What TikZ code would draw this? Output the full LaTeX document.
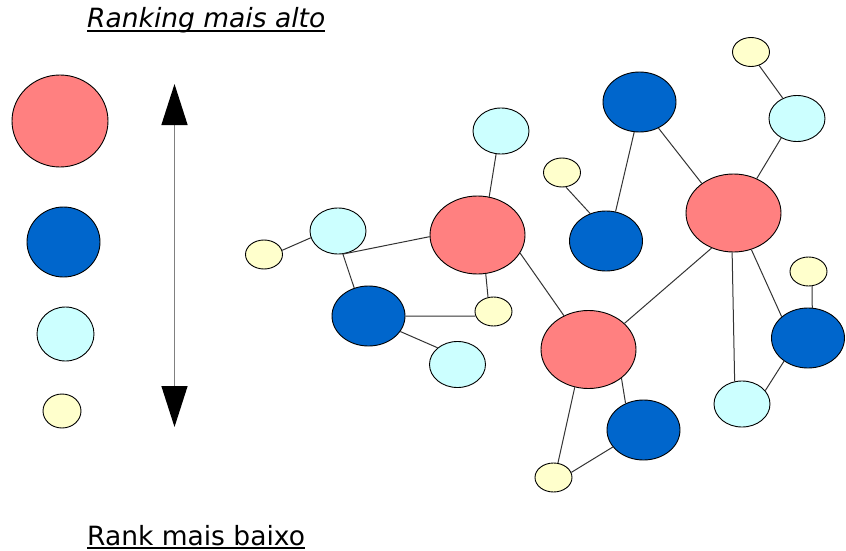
\documentclass[tikz,border=0pt]{standalone}
\usepackage{fontspec}
\setmainfont{DejaVu Sans}
\usetikzlibrary{shapes.geometric,arrows.meta}

\definecolor{rankred}{HTML}{FF8080}
\definecolor{rankblue}{HTML}{0066CC}
\definecolor{rankcyan}{HTML}{CCFFFF}
\definecolor{rankyellow}{HTML}{FFFFCC}
\definecolor{edgegray}{HTML}{333333}

\tikzset{
  vertex/.style={ellipse, draw=black, line width=0.9pt, inner sep=0pt},
  bigred/.style={vertex, fill=rankred, minimum width=95pt, minimum height=78pt},
  midblue/.style={vertex, fill=rankblue, minimum width=73pt, minimum height=60pt},
  smallcyan/.style={vertex, fill=rankcyan, minimum width=56pt, minimum height=46pt},
  tinyyellow/.style={vertex, fill=rankyellow, minimum width=37pt, minimum height=29pt},
  link/.style={draw=edgegray, line width=1pt},
  caption/.style={inner sep=0pt, anchor=base west, font=\fontsize{26.5}{30}\selectfont},
  uline/.style={draw=black, line width=1.6pt}
}

\begin{document}
\begin{tikzpicture}[x=1pt, y=-1pt]
\useasboundingbox (0,0) rectangle (846,551);

% legend: one circle per rank level
\node[vertex, fill=rankred,    minimum width=96pt, minimum height=92pt] (legred)    at (60,121) {};
\node[vertex, fill=rankblue,   minimum width=73pt, minimum height=70pt] (legblue)   at (63.5,242) {};
\node[vertex, fill=rankcyan,   minimum width=57pt, minimum height=54pt] (legcyan)   at (65.5,334) {};
\node[vertex, fill=rankyellow, minimum width=38pt, minimum height=34pt] (legyellow) at (62,411) {};

% rank scale arrow
\coordinate (scaletop) at (174.5,84);
\coordinate (scalebot) at (174.5,427);
\draw[draw=gray, line width=1.4pt,
      {Triangle[width=26pt,length=41pt,color=black]}-{Triangle[width=26pt,length=41pt,color=black]}]
  (scaletop) -- (scalebot);

% captions
\node[caption] (hightxt) at (87,28) {\itshape Ranking mais alto};
\draw[uline] ([yshift=-3.2pt]hightxt.base west) -- ([yshift=-3.2pt]hightxt.base east);
\node[caption] (lowtxt) at (87,545) {Rank mais baixo};
\draw[uline] ([yshift=-3.2pt]lowtxt.base west) -- ([yshift=-3.2pt]lowtxt.base east);

% network nodes
\node[tinyyellow] (yL)   at (264,254.5) {};
\node[smallcyan]  (cL)   at (338,231) {};
\node[midblue]    (bL)   at (368.5,316) {};
\node[tinyyellow] (yM)   at (493.5,311.5) {};
\node[smallcyan]  (cLL)  at (457.5,364.5) {};
\node[bigred]     (rL)   at (477.5,235) {};
\node[smallcyan]  (cTM)  at (501,131) {};
\node[tinyyellow] (yS)   at (562,172.5) {};
\node[midblue]    (bM)   at (606,241) {};
\node[midblue]    (bT)   at (639.5,102) {};
\node[bigred]     (rR)   at (733.5,213) {};
\node[tinyyellow] (yTR)  at (751,52) {};
\node[smallcyan]  (cR)   at (797,118.5) {};
\node[tinyyellow] (yR)   at (808.5,271.5) {};
\node[midblue]    (bR)   at (808,338) {};
\node[smallcyan]  (cLR)  at (742,404) {};
\node[bigred]     (rB)   at (588.5,349.5) {};
\node[midblue]    (bB)   at (643.5,430) {};
\node[tinyyellow] (yB)   at (553.5,477.5) {};

% network links
\draw[link] (yL.13)   -- (cL.194);
\draw[link] (cL.-78)  -- (rL.182);
\draw[link] (cL.-78)  -- (bL.117);
\draw[link] (bL.0)    -- (yM.194);
\draw[link] (bL.-26)  -- (cLL.140);
\draw[link] (rL.-78)  -- (yM.111);
\draw[link] (rL.73)   -- (cTM.-102);
\draw[link] (rL.-23)  -- (rB.126);
\draw[link] (yS.-75)  -- (bM.120);
\draw[link] (bM.72)   -- (bT.-100);
\draw[link] (bT.-54)  -- (rR.137);
\draw[link] (yTR.-59) -- (cR.125);
\draw[link] (cR.-129) -- (rR.56);
\draw[link] (rR.-122) -- (rB.36);
\draw[link] (rR.-92)  -- (cLR.108);
\draw[link] (rR.-64)  -- (bR.141);
\draw[link] (yR.-76)  -- (bR.82);
\draw[link] (bR.-136) -- (cLR.30);
\draw[link] (rB.-41)  -- (bB.124);
\draw[link] (rB.-110) -- (yB.73);
\draw[link] (yB.16)   -- (bB.209);
\end{tikzpicture}
\end{document}
